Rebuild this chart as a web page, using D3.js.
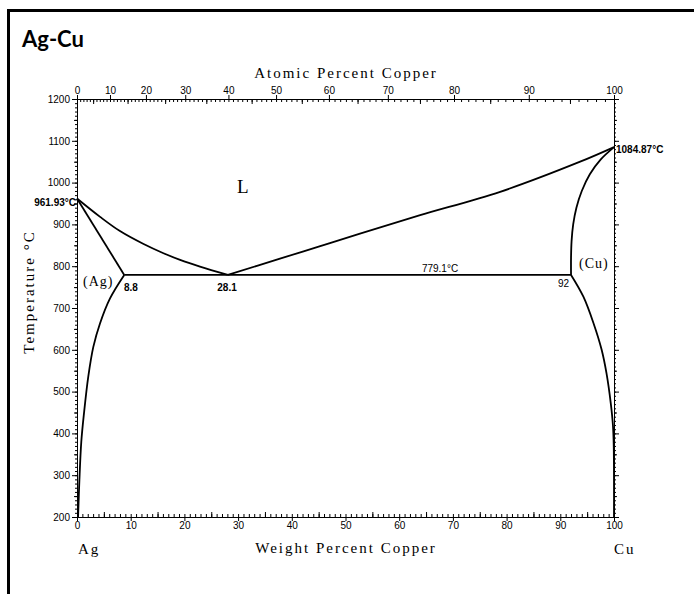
<!DOCTYPE html>
<html>
<head>
<meta charset="utf-8">
<script src="https://cdn.jsdelivr.net/npm/d3@7"></script>
<style>
  body { margin: 0; background: #fff; }
  svg { display: block; }
  .tick text { font-family: "Liberation Sans", Arial, sans-serif; font-size: 10px; fill: #000; }
  .domain, .tick line { stroke: #000; stroke-width: 1; }
</style>
</head>
<body>
<div id="chart"></div>
<script>
// phase boundaries, [wt% Cu, temperature C]
const liquidusAg = [[0, 961.93], [4.3, 918], [8, 884], [12.4, 853], [16.1, 831], [19.2, 815], [22.9, 799], [28.1, 779.1]];
const liquidusCu = [[28.1, 779.1], [37.8, 818], [45, 847], [52.7, 878], [63.9, 922], [78.8, 978], [93.7, 1050], [100, 1084.87]];
const solidusAg = [[0, 961.93], [8.8, 779.1]];
const solvusAg = [[8.8, 779.1], [6.15, 723], [4.28, 663], [3.04, 607], [2.1, 536], [1.3, 448], [0.8, 380], [0.45, 290], [0.2, 200]];
const solidusCu = [[92, 779.1], [92, 820], [92.1, 860], [92.4, 900], [93, 940], [94, 980], [95.5, 1020], [97.5, 1055], [100, 1084.87]];
const solvusCu = [[92, 779.1], [94.3, 727], [96.2, 663], [97.7, 600], [98.6, 544], [99.4, 472], [99.8, 420], [99.95, 370], [100, 200]];
const eutectic = [[8.8, 779.1], [92, 779.1]];

const weightTicks = [0, 10, 20, 30, 40, 50, 60, 70, 80, 90, 100];
const atomicTicks = [0, 10, 20, 30, 40, 50, 60, 70, 80, 90, 100];
const tempTicks = [200, 300, 400, 500, 600, 700, 800, 900, 1000, 1100, 1200];

const massAg = 107.868, massCu = 63.546;

const width = 694, height = 594;
const svg = d3.select("#chart").append("svg")
  .attr("width", width)
  .attr("height", height);

// frame (only left and top edges show)
svg.append("rect")
  .attr("x", 8.5).attr("y", 10.5)
  .attr("width", 720).attr("height", 620)
  .attr("fill", "none").attr("stroke", "#000").attr("stroke-width", 3);

svg.append("text")
  .attr("x", 22).attr("y", 47)
  .style("font-family", "Lato, 'Open Sans', sans-serif")
  .style("font-weight", 700).style("font-size", "22px")
  .text("Ag-Cu");

const x = d3.scaleLinear().domain([0, 100]).range([77, 614]);
const y = d3.scaleLinear().domain([200, 1200]).range([517, 99]);

// atomic % -> pixel, through wt% conversion
const atToWt = a => 100 * a * massCu / (a * massCu + (100 - a) * massAg);
const atDomain = d3.range(0, 101, 1);
const xAt = d3.scaleLinear().domain(atDomain).range(atDomain.map(a => x(atToWt(a))));

const minorW = d3.range(0, 101, 1), midW = d3.range(5, 100, 10);
const minorT = d3.range(200, 1201, 10), midT = d3.range(250, 1200, 100);
const minorA = d3.range(0, 101, 1), midA = d3.range(5, 100, 10);
const fmt = d3.format("d");

function addAxis(axis, tr) {
  return svg.append("g").attr("transform", tr).call(axis);
}

// bottom
addAxis(d3.axisTop(x).tickValues(minorW).tickSize(3).tickFormat(""), "translate(0,517)");
addAxis(d3.axisTop(x).tickValues(midW).tickSize(5).tickFormat(""), "translate(0,517)");
addAxis(d3.axisBottom(x).tickValues(weightTicks).tickSize(4).tickSizeOuter(0).tickPadding(1).tickFormat(fmt), "translate(0,517)");
// top
addAxis(d3.axisBottom(xAt).tickValues(minorA).tickSize(3).tickFormat(""), "translate(0,99)");
addAxis(d3.axisBottom(xAt).tickValues(midA).tickSize(5).tickFormat(""), "translate(0,99)");
addAxis(d3.axisTop(xAt).tickValues(atomicTicks).tickSize(4).tickSizeOuter(0).tickPadding(1).tickFormat(fmt), "translate(0,99)");
// left
addAxis(d3.axisLeft(y).tickValues(minorT).tickSize(2).tickFormat(""), "translate(77,0)");
addAxis(d3.axisLeft(y).tickValues(midT).tickSize(3).tickFormat(""), "translate(77,0)");
addAxis(d3.axisLeft(y).tickValues(tempTicks).tickSize(5).tickSizeOuter(0).tickPadding(2).tickFormat(fmt), "translate(77,0)");
// right
addAxis(d3.axisRight(y).tickValues(minorT).tickSize(2).tickFormat(""), "translate(614,0)");
addAxis(d3.axisRight(y).tickValues(midT).tickSize(3).tickFormat(""), "translate(614,0)");
addAxis(d3.axisRight(y).tickValues(tempTicks).tickSize(5).tickSizeOuter(0).tickFormat(""), "translate(614,0)");

svg.selectAll(".domain").attr("stroke-width", 1.2);

// phase boundaries
const line = d3.line()
  .x(d => x(d[0])).y(d => y(d[1]))
  .curve(d3.curveCatmullRom.alpha(0.5));

[liquidusAg, liquidusCu, solidusAg, solvusAg, solidusCu, solvusCu, eutectic].forEach(pts => {
  svg.append("path")
    .datum(pts)
    .attr("d", line)
    .attr("fill", "none")
    .attr("stroke", "#000")
    .attr("stroke-width", 1.8);
});

// labels
const sans = "'Liberation Sans', Arial, sans-serif";
const serif = "'Liberation Serif', 'Times New Roman', serif";
function label(txt, px, py, opts) {
  const t = svg.append("text").attr("x", px).attr("y", py).text(txt)
    .style("font-family", opts.family || serif)
    .style("font-size", (opts.size || 15) + "px")
    .attr("text-anchor", opts.anchor || "start");
  if (opts.spacing != null) t.style("letter-spacing", opts.spacing + "px");
  if (opts.weight) t.style("font-weight", opts.weight);
  if (opts.rotate) t.attr("transform", `rotate(-90,${px},${py})`);
  return t;
}

label("Atomic Percent Copper", 346, 78, { anchor: "middle", spacing: 2 });
label("Weight Percent Copper", 346, 553, { anchor: "middle", spacing: 2 });
label("Temperature °C", 34, 292, { anchor: "middle", rotate: true, spacing: 2 });
label("Ag", 78, 554, { spacing: 2 });
label("Cu", 614, 554, { spacing: 2 });

label("961.93°C", 76, 206, { family: sans, size: 10, weight: 700, anchor: "end" });
label("1084.87°C", 616, 153, { family: sans, size: 10, weight: 700 });
label("L", 237, 193, { size: 19 });
label("(Ag)", 83, 286, { size: 14, spacing: 1 });
label("(Cu)", 579, 268, { size: 14, spacing: 1 });
label("8.8", 124, 291, { family: sans, size: 10, weight: 700 });
label("28.1", 227, 291, { family: sans, size: 10, weight: 700, anchor: "middle" });
label("779.1°C", 440, 272, { family: sans, size: 10, anchor: "middle" });
label("92", 569, 287, { family: sans, size: 10, anchor: "end" });
</script>
</body>
</html>
